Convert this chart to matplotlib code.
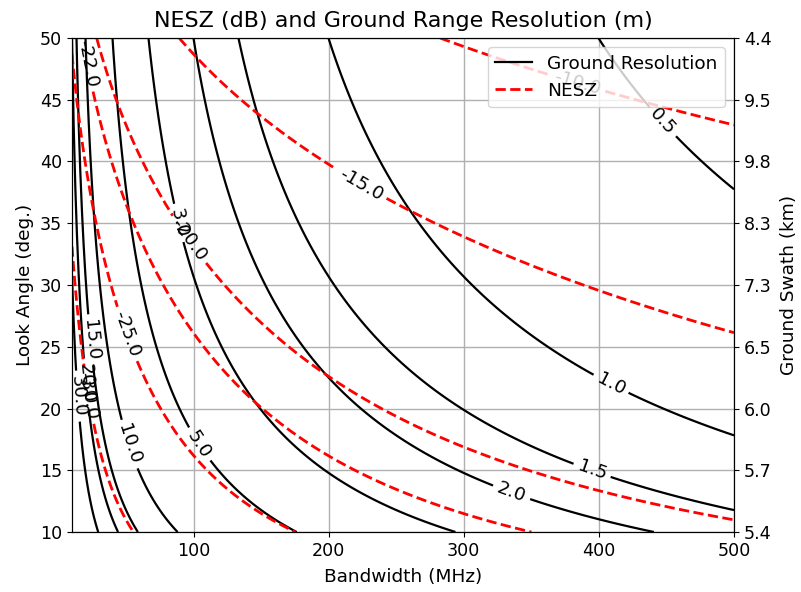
import numpy as np
import matplotlib
matplotlib.use('Agg')
import matplotlib.pyplot as plt
from matplotlib.lines import Line2D

# axis ranges
BW_RANGE = (10, 500)        # MHz
LOOK_RANGE = (10, 50)       # deg

# contour levels
RES_LEVELS = [0.5, 1.0, 1.5, 2.0, 3.0, 5.0, 10.0, 15.0, 20.0, 30.0]
NESZ_LEVELS = [-30.0, -25.0, -22.0, -20.0, -15.0, -10.0]

# right axis labels (ground swath, km), bottom to top
LOOK_TICKS = [10, 15, 20, 25, 30, 35, 40, 45, 50]
SWATH_LABELS = ['5.4', '5.7', '6.0', '6.5', '7.3', '8.3', '9.8', '9.5', '4.4']

# label anchor points (bandwidth, look angle)
RES_LABEL_POS = [(445, 43), (409, 22), (395, 15), (336, 13.4), (88, 35),
                 (107, 17.3), (55, 17.2), (27, 25.6), (20.5, 22), (14, 21)]
NESZ_LABEL_POS = [(19, 21), (50, 26), (23, 48), (97, 33.7), (226, 38.5),
                  (386, 47)]

plt.rcParams.update({'font.size': 13.3, 'xtick.labelsize': 12.6,
                     'ytick.labelsize': 12.6})

bw = np.linspace(BW_RANGE[0], BW_RANGE[1], 400)
look = np.linspace(LOOK_RANGE[0], LOOK_RANGE[1], 300)
B, L = np.meshgrid(bw, look)
th = np.deg2rad(L)

# ground range resolution  c / (2 B sin(inc))
ground_res = 150.0 / (B * 0.98 * np.sin(th))
# noise equivalent sigma zero
nesz = 10 * np.log10(B) + 35 * np.log10(1 / np.cos(th)) + 10 * np.log10(np.sin(th)) - 40.07

fig = plt.figure(figsize=(8.01, 5.92), dpi=100)
ax = fig.add_axes([72 / 801, 60 / 592, 662 / 801, 494 / 592])

cs1 = ax.contour(B, L, ground_res, levels=RES_LEVELS, colors='k', linewidths=1.6)
cs2 = ax.contour(B, L, nesz, levels=NESZ_LEVELS, colors='r', linestyles='--',
                 linewidths=2.0)
ax.clabel(cs1, fmt='%1.1f', fontsize=13.3, colors='k', manual=RES_LABEL_POS)
ax.clabel(cs2, fmt='%1.1f', fontsize=13.3, colors='k', manual=NESZ_LABEL_POS)

ax.set_xlim(*BW_RANGE)
ax.set_ylim(*LOOK_RANGE)
ax.set_xlabel('Bandwidth (MHz)', labelpad=6)
ax.set_ylabel('Look Angle (deg.)')
ax.set_title('NESZ (dB) and Ground Range Resolution (m)', fontsize=16, pad=8)
ax.grid(True, color='#b0b0b0', linewidth=1.0)

handles = [Line2D([], [], color='k', linewidth=1.6),
           Line2D([], [], color='r', linestyle='--', linewidth=2.0)]
ax.legend(handles, ['Ground Resolution', 'NESZ'], loc='upper right')

ax2 = ax.twinx()
ax2.set_ylim(*LOOK_RANGE)
ax2.set_yticks(LOOK_TICKS)
ax2.set_yticklabels(SWATH_LABELS)
ax2.set_ylabel('Ground Swath (km)', labelpad=6)

fig.savefig('out.png', dpi=100)
